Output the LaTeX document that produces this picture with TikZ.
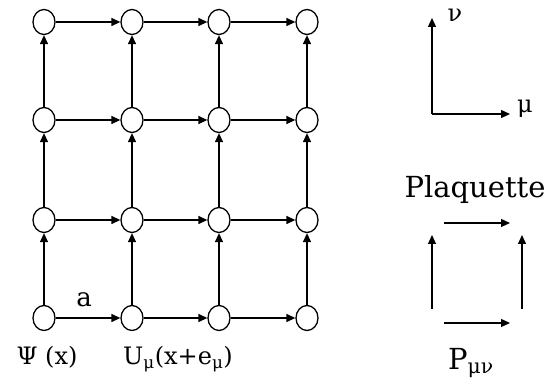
\documentclass[tikz,border=0pt]{standalone}
\usepackage{fontspec}
\setmainfont{DejaVu Serif}
\usepackage{tikz}
\usetikzlibrary{arrows.meta, positioning, shapes.geometric}

\begin{document}
\begin{tikzpicture}[
    x=1pt, y=1pt,
    site/.style ={draw, ellipse, minimum width=22pt, minimum height=25pt,
                  inner sep=0pt, line width=1.3pt, fill=white},
    arr/.style  ={-{Triangle[length=9pt, width=8pt]}, line width=1.3pt},
    lbl/.style  ={font=\fontsize{24}{26}\selectfont, inner sep=0pt, anchor=base},
    big/.style  ={font=\fontsize{29}{32}\selectfont, inner sep=0pt, anchor=base}
]
\useasboundingbox (0,0) rectangle (550,388);

%% ── Lattice sites (row 0 = bottom) ───────────────────────────────
\node[site] (s00) at (44,  70) {};
\node[site] (s10) at (132, 70) {};
\node[site] (s20) at (219, 70) {};
\node[site] (s30) at (307, 70) {};

\node[site] (s01) at (44,  168) {};
\node[site] (s11) at (132, 168) {};
\node[site] (s21) at (219, 168) {};
\node[site] (s31) at (307, 168) {};

\node[site] (s02) at (44,  268) {};
\node[site] (s12) at (132, 268) {};
\node[site] (s22) at (219, 268) {};
\node[site] (s32) at (307, 268) {};

\node[site] (s03) at (44,  366) {};
\node[site] (s13) at (132, 366) {};
\node[site] (s23) at (219, 366) {};
\node[site] (s33) at (307, 366) {};

%% ── Links in mu direction ────────────────────────────────────────
\draw[arr] (s00) -- (s10);  \draw[arr] (s10) -- (s20);  \draw[arr] (s20) -- (s30);
\draw[arr] (s01) -- (s11);  \draw[arr] (s11) -- (s21);  \draw[arr] (s21) -- (s31);
\draw[arr] (s02) -- (s12);  \draw[arr] (s12) -- (s22);  \draw[arr] (s22) -- (s32);
\draw[arr] (s03) -- (s13);  \draw[arr] (s13) -- (s23);  \draw[arr] (s23) -- (s33);

%% ── Links in nu direction ────────────────────────────────────────
\draw[arr] (s00) -- (s01);  \draw[arr] (s01) -- (s02);  \draw[arr] (s02) -- (s03);
\draw[arr] (s10) -- (s11);  \draw[arr] (s11) -- (s12);  \draw[arr] (s12) -- (s13);
\draw[arr] (s20) -- (s21);  \draw[arr] (s21) -- (s22);  \draw[arr] (s22) -- (s23);
\draw[arr] (s30) -- (s31);  \draw[arr] (s31) -- (s32);  \draw[arr] (s32) -- (s33);

%% ── Lattice labels ───────────────────────────────────────────────
\node[lbl, font=\fontsize{26}{28}\selectfont] (spacing) at (84, 81) {a};
\node[lbl] (psi)  at (47,  23) {Ψ (x)};
\node[lbl] (link) at (178, 23) {U\textsubscript{μ}(x+e\textsubscript{μ})};

%% ── Axes ─────────────────────────────────────────────────────────
\coordinate (orig)  at (432, 274);
\coordinate (nutip) at (432, 370);
\coordinate (mutip) at (510, 274);
\draw[arr] (orig) -- (nutip);
\draw[arr] (orig) -- (mutip);
\node[lbl] (nu) at (455, 366) {ν};
\node[lbl] (mu) at (525, 275) {μ};

%% ── Plaquette ────────────────────────────────────────────────────
\node[big] (plaq) at (475, 190) {Plaquette};
\coordinate (pa) at (432, 65);
\coordinate (pb) at (522, 65);
\coordinate (pc) at (522, 165);
\coordinate (pd) at (432, 165);
\draw[arr, shorten <=12pt, shorten >=12pt] (pa) -- (pb);
\draw[arr, shorten <=12pt, shorten >=12pt] (pd) -- (pc);
\draw[arr, shorten <=14pt, shorten >=12pt] (pa) -- (pd);
\draw[arr, shorten <=14pt, shorten >=12pt] (pb) -- (pc);
\node[big] (pmn) at (471, 18) {P\textsubscript{μν}};

\end{tikzpicture}
\end{document}
